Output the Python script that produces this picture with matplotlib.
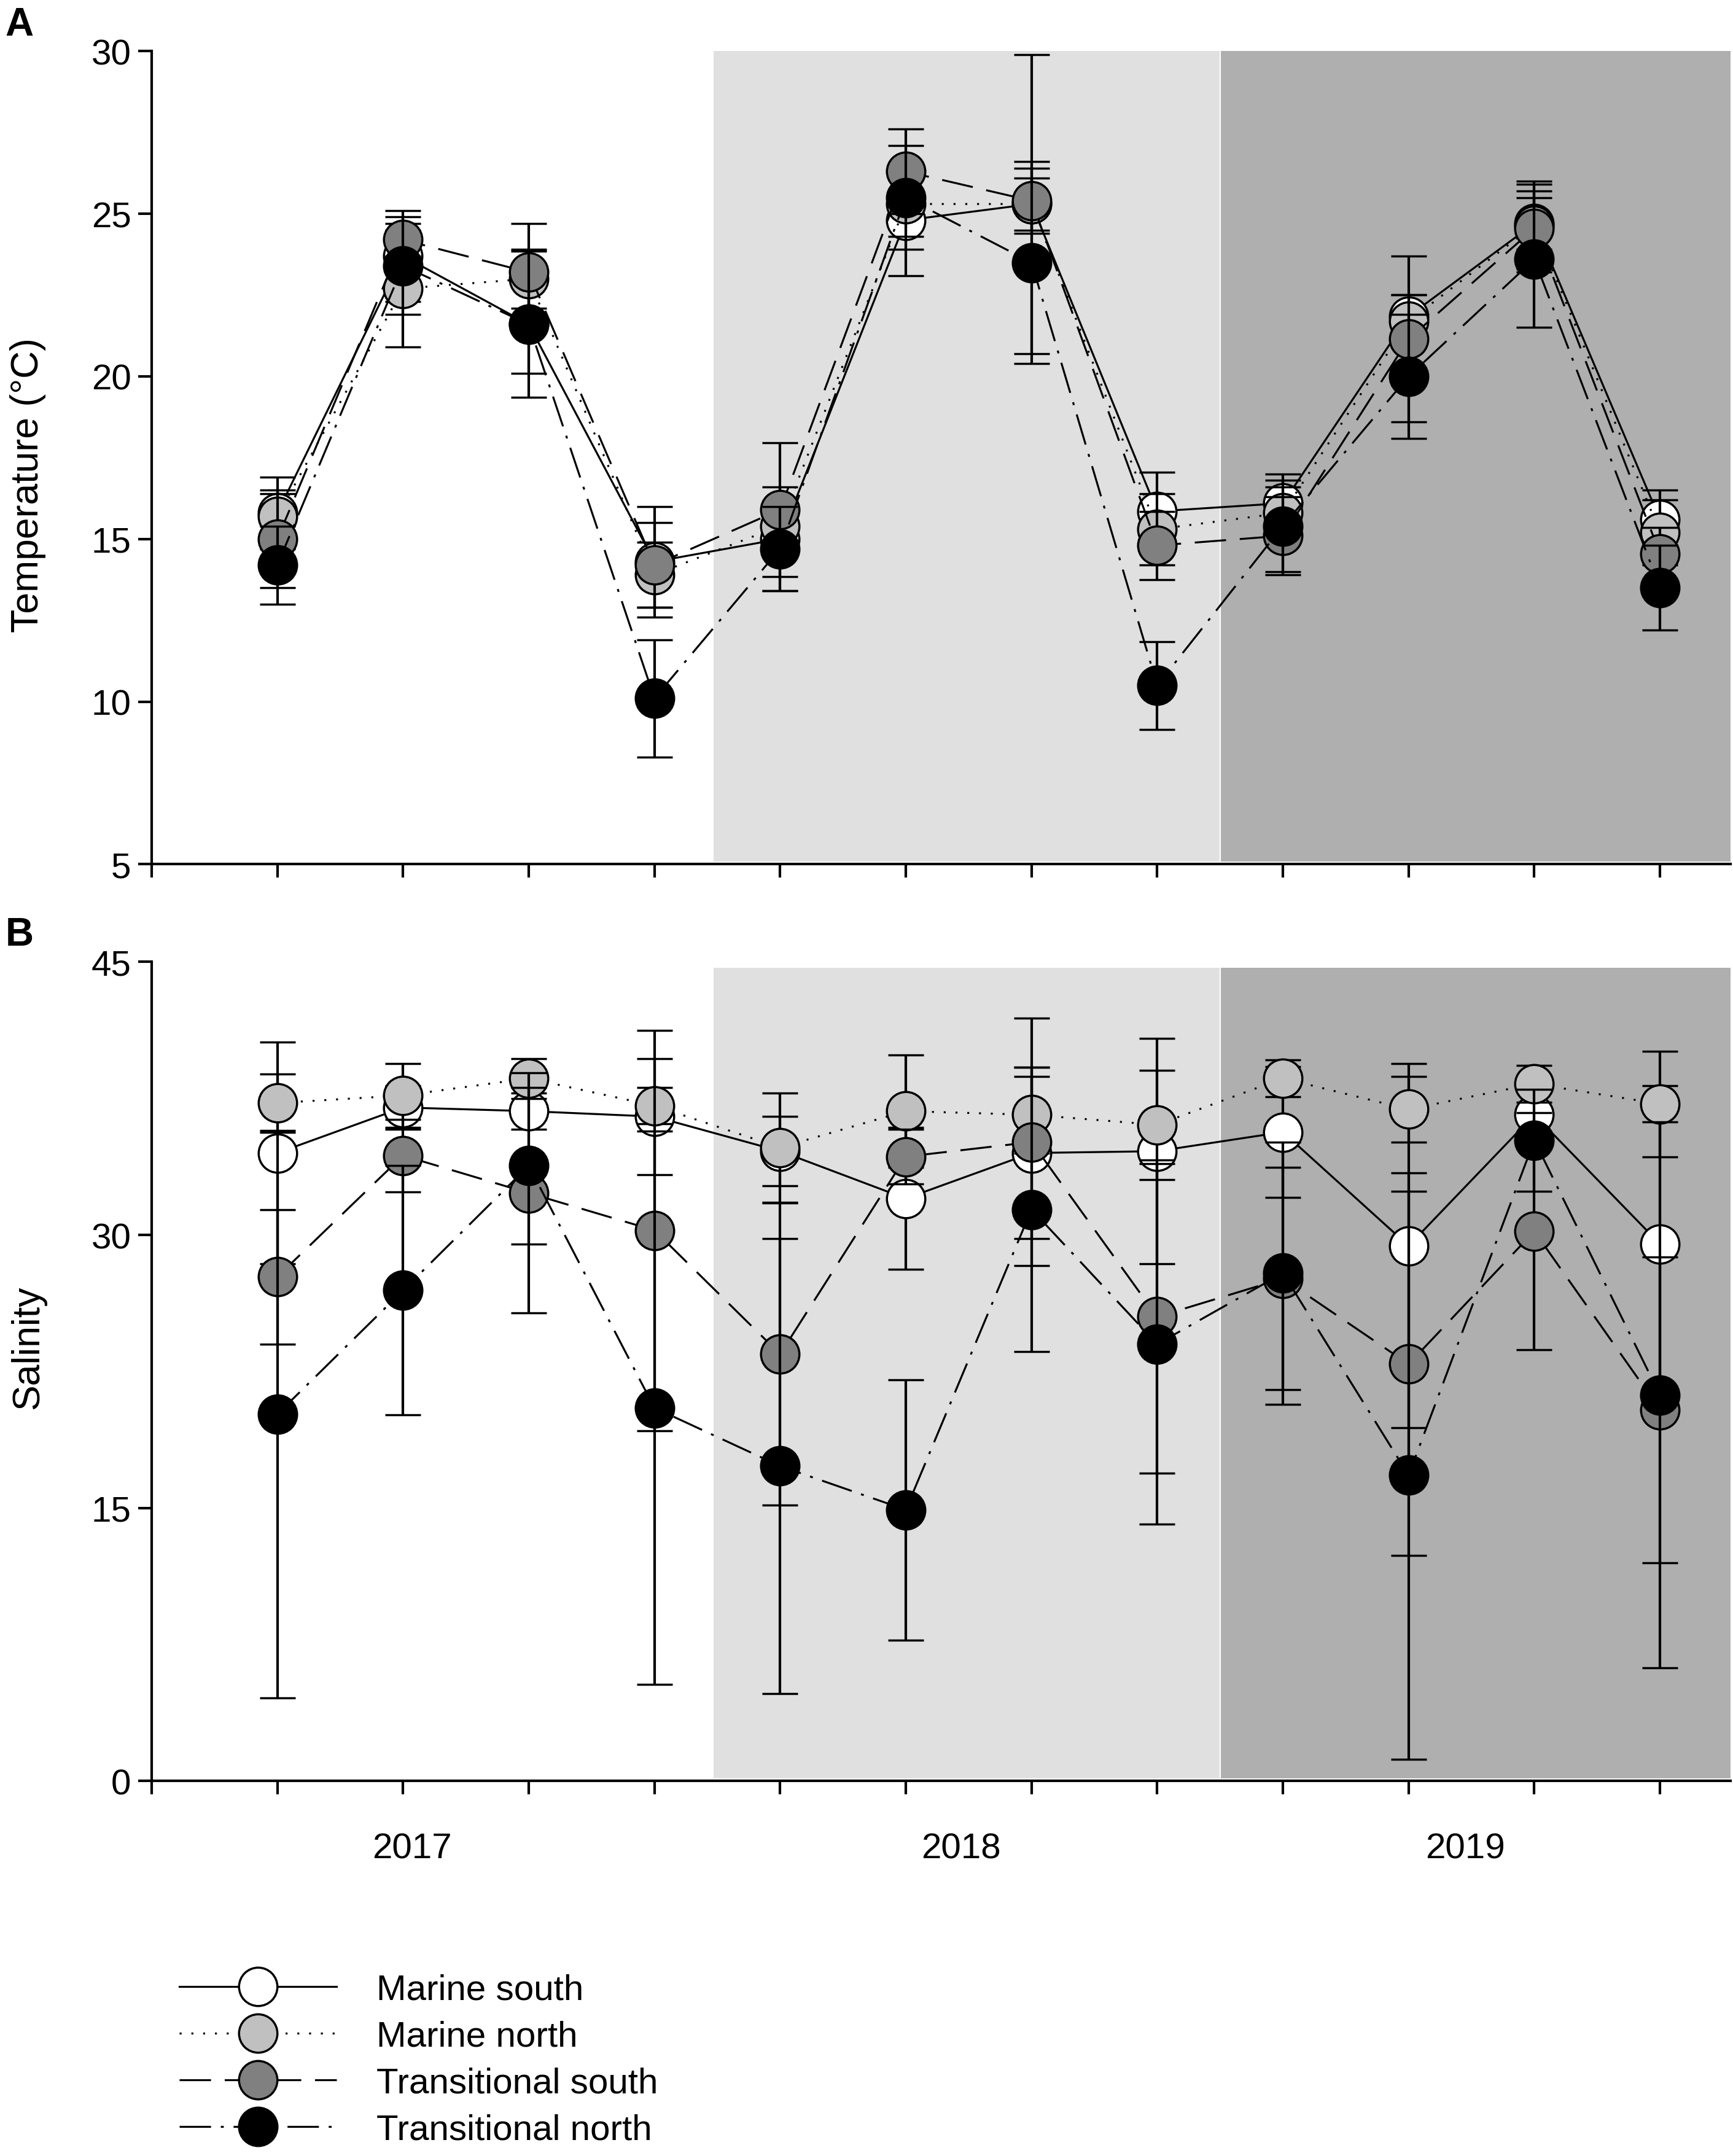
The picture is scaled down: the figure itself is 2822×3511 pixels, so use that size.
import numpy as np
import matplotlib
matplotlib.use("Agg")
import matplotlib.pyplot as plt

plt.rcParams['font.family'] = ['Liberation Sans', 'DejaVu Sans']

# sampling occasions (12 surveys, 2017-2019)
months = np.arange(1, 13)
years = ["2017", "2018", "2019"]
year_pos = [2.07, 6.44, 10.45]
groups = ["Marine south", "Marine north", "Transitional south", "Transitional north"]

# temperature (°C), mean and error per group
temp_ms = [15.8, 23.7, 21.6, 14.3, 15.0, 24.8, 25.3, 15.85, 16.1, 21.85, 24.7, 15.6]
temp_ms_err = [1.1, 1.4, 1.5, 1.7, 1.6, 1.7, 4.6, 1.2, 0.9, 0.65, 0.8, 0.9]
temp_mn = [15.7, 22.7, 23.0, 13.9, 15.4, 25.3, 25.3, 15.3, 15.8, 21.7, 24.65, 15.2]
temp_mn_err = [0.7, 1.8, 0.9, 1.0, 0.5, 1.0, 0.8, 1.1, 0.8, 0.8, 1.35, 1.0]
temp_ts = [15.0, 24.2, 23.2, 14.2, 15.9, 26.3, 25.4, 14.8, 15.1, 21.15, 24.55, 14.55]
temp_ts_err = [1.5, 0.5, 1.5, 1.3, 2.05, 1.3, 1.0, 1.05, 1.2, 2.55, 1.35, 0.8]
temp_tn = [14.2, 23.4, 21.6, 10.1, 14.7, 25.5, 23.5, 10.5, 15.4, 20.0, 23.6, 13.5]
temp_tn_err = [1.2, 1.5, 2.25, 1.8, 1.3, 1.6, 3.1, 1.35, 1.4, 1.9, 2.1, 1.3]

# salinity, mean and error per group
sal_ms = [34.5, 37.0, 36.8, 36.5, 34.6, 32.0, 34.5, 34.6, 35.65, 29.4, 36.6, 29.5]
sal_ms_err = [6.1, 1.2, 1.0, 3.2, 1.9, 3.9, 4.7, 6.2, 3.6, 10.0, 1.4, 8.7]
sal_mn = [37.25, 37.66, 38.6, 37.1, 34.8, 36.8, 36.6, 36.05, 38.6, 36.9, 38.3, 37.2]
sal_mn_err = [1.6, 1.75, 1.1, 1.0, 3.0, 3.1, 2.1, 3.0, 1.0, 1.8, 1.0, 2.9]
sal_ts = [27.7, 34.36, 32.3, 30.25, 23.45, 34.3, 35.1, 25.5, 27.6, 22.9, 30.2, 20.4]
sal_ts_err = [3.7, 2.0, 6.6, 11.0, 8.3, 1.5, 6.8, 8.6, 6.1, 10.5, 6.5, 8.4]
sal_tn = [20.15, 26.95, 33.8, 20.5, 17.3, 14.9, 31.4, 24.0, 27.9, 16.8, 35.2, 21.2]
sal_tn_err = [15.6, 6.85, 4.3, 15.2, 12.5, 7.15, 7.8, 9.9, 7.2, 15.6, 2.8, 15.0]

# shaded periods (in sampling-index units)
shade_light = (4.47, 8.5)
shade_dark = (8.5, 12.56)

face = ["white", "#c0c0c0", "#808080", "black"]
styles = ["-", (0, (1, 5)), (0, (16, 7)), (0, (16, 5, 1.5, 5))]

fig = plt.figure(figsize=(28.22, 35.12), dpi=100)
axA = fig.add_axes([0.0875, 0.599, 0.911, 0.377])
axB = fig.add_axes([0.0875, 0.1739, 0.911, 0.3798])


def draw(ax, series, ylim, yticks, span_top):
    ax.axvspan(*shade_light, ymin=0.003, ymax=span_top, color="#e0e0e0", lw=0, zorder=0)
    ax.axvspan(*shade_dark, ymin=0.003, ymax=span_top, color="#afafaf", lw=0, zorder=0)
    ax.axvline(shade_light[1], ymin=0.003, ymax=span_top, color="white", lw=1.5, zorder=0.5)
    handles = []
    for i, (y, e) in enumerate(series):
        c = ax.errorbar(months, y, yerr=e, color="black", ls=styles[i], lw=2.3,
                        marker="o", ms=45, mfc=face[i], mec="black", mew=2.5,
                        elinewidth=3, capsize=21, capthick=3, zorder=2 + i)
        handles.append(c[0])
    ax.set_xlim(0, 12.56)
    ax.set_ylim(*ylim)
    ax.set_yticks(yticks)
    ax.set_xticks(np.arange(0, 13))
    ax.set_xticklabels([])
    for s in ["top", "right"]:
        ax.spines[s].set_visible(False)
    for s in ["left", "bottom"]:
        ax.spines[s].set_linewidth(3)
    ax.tick_params(axis="y", direction="out", length=16, width=3, labelsize=42, pad=8)
    ax.tick_params(axis="x", direction="out", length=16, width=3)
    return handles


handles = draw(axA, [(temp_ms, temp_ms_err), (temp_mn, temp_mn_err),
                     (temp_ts, temp_ts_err), (temp_tn, temp_tn_err)],
               (5, 30), [5, 10, 15, 20, 25, 30], 1.0)
draw(axB, [(sal_ms, sal_ms_err), (sal_mn, sal_mn_err),
           (sal_ts, sal_ts_err), (sal_tn, sal_tn_err)],
     (0, 45), [0, 15, 30, 45], 0.993)

for xp, yr in zip(year_pos, years):
    axB.text(xp, -0.0825, yr, transform=axB.get_xaxis_transform(),
             ha="center", va="center", fontsize=42)

fig.text(0.016, 1 - 352 / 1564, "Temperature (°C)", rotation=90,
         ha="center", va="center", fontsize=45)
fig.text(0.016, 1 - 977 / 1564, "Salinity", rotation=90,
         ha="center", va="center", fontsize=45)
fig.text(0.003, 0.997, "A", fontsize=46, fontweight="bold", ha="left", va="top")
fig.text(0.003, 0.575, "B", fontsize=46, fontweight="bold", ha="left", va="top")

fig.legend(handles, groups, loc="upper left", bbox_to_anchor=(0.1034, 0.0848),
           frameon=False, fontsize=42, handlelength=4.4, handletextpad=1.1,
           labelspacing=0.38, borderpad=0, borderaxespad=0)

fig.savefig("out.png", dpi=100)
